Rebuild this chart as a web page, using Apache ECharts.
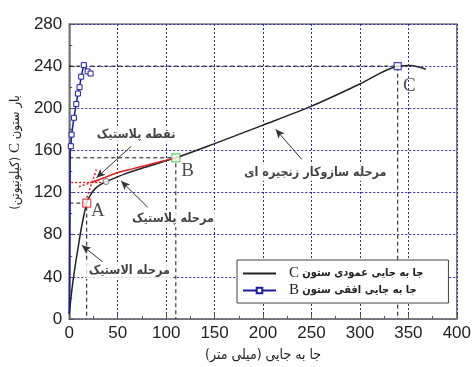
<!DOCTYPE html>
<html><head><meta charset="utf-8">
<script src="https://cdn.jsdelivr.net/npm/echarts@6/dist/echarts.min.js"></script>
<style>html,body{margin:0;padding:0;background:#fff}#c{width:474px;height:367px}</style>
</head><body><div id="c"></div>
<script>
// ---- data ----
const xMin = 0, xMax = 400, xStep = 50;
const yMin = 0, yMax = 280, yStep = 40;
const nameC = 'جا به جایی عمودی ستون C';
const nameB = 'جا به جایی افقی ستون B';
const verticalC = [[0,5],[3,30],[6,50],[9,67],[12,84],[15,98],[18,110],[22,118],[27,124],[33,128],[38,130.5],[50,135],[57,137.5],[78,144],[110,153],[150,166.5],[200,184],[250,202],[300,223],[339,240],[352,240.5],[368,237]];
const horizontalB = [[0,5],[0.3,40],[0.5,80],[0.7,120],[0.9,145],[1,158],[1.6,164],[2.4,175],[4.8,191],[7.2,204],[8.9,214],[10.6,220],[12.3,230],[15,241],[19,235],[22,233]];
const plasticLine = [[23,129.5],[30,132],[40,135.5],[50,139],[65,142.5],[78,145.5],[95,149.5],[110,153]];
const tangentLines = [[[2,129.5],[33,129.5]], [[15.5,108],[28,142]], [[10,125.5],[36,134]]];
const guideLines = [[[0,110],[18,110],[18,0]], [[0,153],[110,153],[110,0]], [[0,240],[339,240],[339,0]]];
const pointA = [18,110], pointB = [110,153], pointC = [339,240], pointYield = [38,130.5];
const letters = [[29.5,102.7,'A'],[122,140.4,'B'],[351,221,'C']];
const notes = [[69,175,'نقطه پلاستیک'],[107,95,'مرحله پلاستیک'],[62,46,'مرحله الاستیک'],[254,139,'مرحله سازوکار زنجیره ای']];
const arrows = [[[64,164],[28,134]], [[81,106],[53.5,131]], [[34.7,54],[13,70]], [[240,151.5],[213,180]]];

const persian = '"DejaVu Sans Condensed", "DejaVu Sans", sans-serif';
function joinSegments(segs){ const out=[]; segs.forEach((s,i)=>{ if(i) out.push(null); s.forEach(p=>out.push(p)); }); return out; }

const chart = echarts.init(document.getElementById('c'), null, {renderer:'canvas'});
const axisCommon = {
  type:'value',
  axisLine:{show:true, lineStyle:{color:'#777', width:1.5}},
  axisTick:{show:true, inside:true, length:5, lineStyle:{color:'#555'}},
  minorTick:{show:true, splitNumber:2, length:3, lineStyle:{color:'#555'}},
  splitLine:{show:true, lineStyle:{color:'#2a2ab0', type:[2,2], width:1}},
  axisLabel:{fontSize:17, color:'#222', fontFamily:'"Liberation Sans", Arial, sans-serif'}
};
const option = {
  animation:false,
  backgroundColor:'#fff',
  grid:{left:68, right:17, top:24, bottom:46, show:true, borderColor:'#777', borderWidth:1.5},
  xAxis:Object.assign({}, axisCommon, {min:xMin, max:xMax, interval:xStep,
    axisLabel:Object.assign({}, axisCommon.axisLabel, {margin:6}),
    name:'جا به جایی (میلی متر)', nameLocation:'middle', nameGap:29,
    nameTextStyle:{fontSize:14, color:'#222', fontFamily:persian}}),
  yAxis:Object.assign({}, axisCommon, {min:yMin, max:yMax, interval:yStep,
    axisLabel:Object.assign({}, axisCommon.axisLabel, {margin:7}),
    name:'{p|(کیلونیوتن)} {c|C} {p|بار ستون}', nameLocation:'middle', nameGap:44,
    nameTextStyle:{fontSize:13, color:'#222', fontFamily:persian, padding:[0,0,0,38],
      rich:{p:{fontSize:13, color:'#222', fontFamily:persian}, c:{fontSize:15, color:'#222', fontFamily:'"Liberation Serif", serif'}}}}),
  legend:{
    left:237, top:260, orient:'vertical', padding:[6,25,5,5],
    borderColor:'#444', borderWidth:1, backgroundColor:'#fff',
    itemWidth:33, itemHeight:7, itemGap:2,
    data:[{name:nameC, itemStyle:{opacity:0}}, {name:nameB}],
    formatter:function(n){ const parts=n.split(' '); const letter=parts.pop(); return '{c|'+letter+'} {p|'+parts.join(' ')+'}'; },
    textStyle:{rich:{c:{fontSize:15, lineHeight:14, color:'#222', fontFamily:'"Liberation Serif", serif', padding:[0,0,0,8]}, p:{fontSize:11, lineHeight:14, fontWeight:'bold', color:'#222', fontFamily:persian}}}
  },
  series:[
    {name:'guides', type:'line', data:joinSegments(guideLines), connectNulls:false, symbol:'none', lineStyle:{color:'#111', width:1, type:[4,3]}, z:2},
    {name:nameC, type:'line', data:verticalC, symbol:'none', smooth:0.3, lineStyle:{color:'#222', width:1.5}, itemStyle:{color:'#222'}, z:3},
    {name:'plastic', type:'line', data:plasticLine, symbol:'none', smooth:0.3, lineStyle:{color:'#e02020', width:1.5}, z:4},
    {name:'tangent', type:'line', data:joinSegments(tangentLines), connectNulls:false, symbol:'none', lineStyle:{color:'#e02020', width:1.5, type:[2,2]}, z:4},
    {name:nameB, type:'line', data:horizontalB.map((p,i)=> p[1] < 160 ? {value:p, symbol:'none'} : p), symbol:'rect', symbolSize:5, showSymbol:true,
      lineStyle:{color:'#1a1aa8', width:1.5}, itemStyle:{color:'#fff', borderColor:'#1a1aa8', borderWidth:1}, z:5},
    {name:'keyA', type:'scatter', data:[pointA], symbol:'rect', symbolSize:8, itemStyle:{color:'#fff', borderColor:'#e02020', borderWidth:1.2}, z:6},
    {name:'keyB', type:'scatter', data:[pointB], symbol:'rect', symbolSize:8, itemStyle:{color:'#fff', borderColor:'#33cc33', borderWidth:1.2}, z:6},
    {name:'keyC', type:'scatter', data:[pointC], symbol:'rect', symbolSize:7, itemStyle:{color:'#fff', borderColor:'#1a1aa8', borderWidth:1.2}, z:6},
    {name:'yield', type:'scatter', data:[pointYield], symbol:'circle', symbolSize:6, itemStyle:{color:'#fff', borderColor:'#555', borderWidth:1}, z:6},
    {name:'letters', type:'scatter', data:letters, symbolSize:0, z:7,
      label:{show:true, position:'inside', formatter:p=>p.data[2], fontSize:19, color:'#222', fontFamily:'"Liberation Serif", serif'}},
    {name:'notes', type:'scatter', data:notes, symbolSize:0, z:8,
      label:{show:true, position:'inside', formatter:p=>p.data[2], fontSize:12.5, fontWeight:'bold', color:'#111', fontFamily:persian, backgroundColor:'#fff', padding:[2,3]},
      markLine:{silent:true, symbol:['none','arrow'], symbolSize:[6,9], label:{show:false},
        lineStyle:{color:'#333', width:1, type:'solid'},
        data:arrows.map(a=>[{coord:a[0]},{coord:a[1]}])}}
  ]
};
chart.setOption(option);
</script>
</body></html>
